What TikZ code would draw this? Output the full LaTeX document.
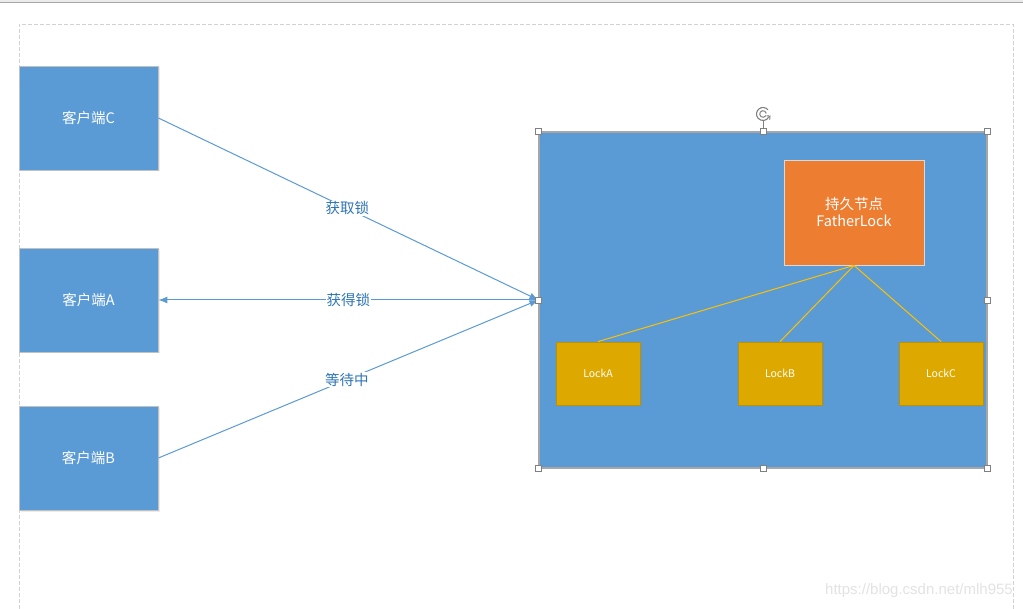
\documentclass[tikz,border=0pt]{standalone}
\usepackage{fontspec}
\setmainfont{Noto Sans CJK SC}
\newfontfamily\wmfont{Liberation Sans}
\usetikzlibrary{arrows.meta,shadows,calc}
\definecolor{cblue}{HTML}{5B9BD5}
\definecolor{corange}{HTML}{ED7D31}
\definecolor{cgold}{HTML}{DDA800}
\definecolor{cgoldedge}{HTML}{B8900A}
\definecolor{cyel}{HTML}{FFC000}
\definecolor{clabel}{HTML}{2E75B6}
\definecolor{cgray}{HTML}{A6A6A6}
\tikzset{
  client/.style={draw=cgray!70, line width=0.8pt, fill=cblue, minimum width=139pt, minimum height=104pt, inner sep=0pt, text=white, font=\fontsize{14.5}{17}\selectfont, drop shadow={opacity=0.15, shadow xshift=1.5pt, shadow yshift=-1.5pt}},
  lockbox/.style={draw=cgoldedge, line width=0.8pt, fill=cgold, minimum width=84pt, minimum height=63pt, inner sep=0pt, text=white, font=\fontsize{10.5}{12}\selectfont, drop shadow={opacity=0.15, shadow xshift=1.5pt, shadow yshift=-1.5pt}},
  conn/.style={draw=cblue, line width=1pt},
  tip/.style={-{Latex[length=9pt,width=7pt]}},
  lab/.style={fill=white, text=clabel, inner sep=1pt, font=\fontsize{14.5}{17}\selectfont},
  handle/.style={draw=gray, fill=white, line width=0.6pt, minimum size=6pt, inner sep=0pt},
  yl/.style={draw=cyel, line width=1pt},
}
\begin{document}
\begin{tikzpicture}[x=1pt,y=-1pt]
\useasboundingbox (0,0) rectangle (1023,609);
\fill[white] (0,0) rectangle (1023,609);
% top bar
\fill[gray!15] (0,0) rectangle (1023,2.5);
\draw[gray!70, line width=1pt] (0,3) -- (1023,3);
% page border
\draw[gray!35, dashed, dash pattern=on 4pt off 2pt, line width=0.7pt] (19,609) -- (19,24) -- (1013,24) -- (1013,609);
% big box
\node[draw=cgray, line width=1.2pt, fill=cblue, minimum width=448pt, minimum height=336pt, inner sep=0pt] (big) at (763,300) {};
% father
\node[draw=gray!30, line width=0.8pt, fill=corange, minimum width=140pt, minimum height=105pt, inner sep=0pt, text=white, align=center, font=\fontsize{14.5}{17}\selectfont] (father) at (854,212.5) {持久节点\\FatherLock};
% locks
\node[lockbox] (la) at (598,373.5) {LockA};
\node[lockbox] (lb) at (780,373.5) {LockB};
\node[lockbox] (lc) at (941,373.5) {LockC};
\draw[yl] (father.south) -- (la.north);
\draw[yl] (father.south) -- (lb.north);
\draw[yl] (father.south) -- (lc.north);
% clients
\node[client] (cc) at (88.5,118) {客户端C};
\node[client] (ca) at (88.5,300) {客户端A};
\node[client] (cb) at (88.5,458) {客户端B};
% connectors
\draw[conn,tip] (cc.east) -- node[lab, pos=0.497] {获取锁} (big.west);
\draw[conn,tip] (big.west) -- node[lab, pos=0.5] {获得锁} (ca.east);
\draw[conn,tip] (cb.east) -- node[lab, pos=0.496] {等待中} (big.west);
% selection handles
\coordinate (rot) at (763,114);
\draw[gray, line width=0.8pt] (big.north) -- (763,121);
\draw[gray, line width=1.1pt] (rot) ++(40:6.5pt) arc[start angle=40, end angle=330, radius=6.5pt];
\draw[gray, line width=1pt] (rot) ++(10:3.3pt) arc[start angle=10, end angle=330, radius=3.3pt];
\draw[gray, line width=1pt, -{Straight Barb[length=2.5pt]}] ($(rot)+(330:6.5pt)$) -- ++(40:2.5pt);
\foreach \a in {north west,north,north east,west,east,south west,south,south east}
  \node[handle] at (big.\a) {};
% watermark
\node[text=gray!22, font=\fontsize{15}{17}\selectfont\wmfont, anchor=east, inner sep=0pt] (wm) at (1013,591) {https://blog.csdn.net/mlh955};
\end{tikzpicture}
\end{document}
